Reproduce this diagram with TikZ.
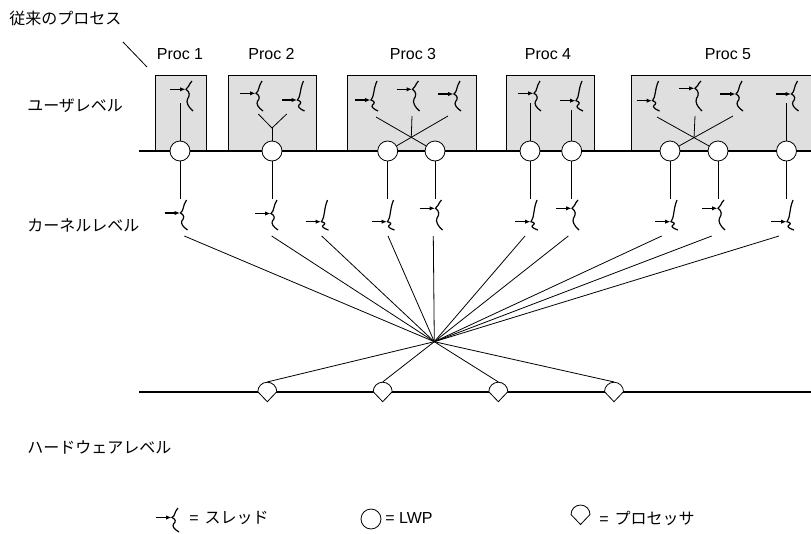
\documentclass[tikz,border=0pt]{standalone}
\usepackage{fontspec}
\setmainfont{Liberation Sans}
\newfontfamily\jpfont{Noto Sans CJK JP}
\usetikzlibrary{arrows.meta}

\tikzset{
  bus/.style={line width=2pt},
  procbox/.style={draw, line width=0.6pt, fill=gray!25},
  lwp/.style={circle, draw, fill=white, line width=0.6pt, minimum size=15pt, inner sep=0pt},
  cpunode/.style={circle, minimum size=14.25pt, inner sep=0pt},
  cpuline/.style={draw, fill=white, line width=0.6pt},
  thrline/.style={line width=0.9pt},
  thrarrow/.style={line width=0.8pt, -{Latex[length=4pt,width=3.2pt]}},
  conn/.style={line width=0.6pt},
  proclbl/.style={font=\fontsize{12}{14}\selectfont, inner sep=0pt},
  jplbl/.style={font=\jpfont\fontsize{12}{14}\selectfont, inner sep=0pt, anchor=west},
  lglbl/.style={font=\fontsize{12}{14}\selectfont, inner sep=0pt, anchor=west}
}

% thread symbol: [length] contact-x, contact-y, offset of contact below top
\newcommand\mythr[4][30]{%
  \draw[thrline] ({#2+6},{#3-#4}) .. controls ({#2+2},{#3-0.55*#4}) and ({#2+3.5},{#3-0.2*#4}) .. (#2,#3)
     .. controls ({#2+4},{#3+0.12*(#1-#4)}) and ({#2+4},{#3+0.3*(#1-#4)}) .. ({#2+1.5},{#3+0.45*(#1-#4)})
     .. controls ({#2},{#3+0.6*(#1-#4)}) and ({#2+2},{#3+0.8*(#1-#4)}) .. ({#2+7},{#3+#1-#4});
  \draw[thrarrow] ({#2-16},#3) -- ({#2-0.5},#3);
}
% processor symbol: name, x, y
\newcommand\mycpu[3]{%
  \node[cpunode] (#1) at (#2,#3) {};
  \draw[cpuline] ({#2-9.5},#3) .. controls ({#2-9.5},{#3-5.25}) and ({#2-5.25},{#3-9.5}) .. (#2,{#3-9.5})
     .. controls ({#2+5.25},{#3-9.5}) and ({#2+9.5},{#3-5.25}) .. ({#2+9.5},#3) -- (#2,{#3+10}) -- cycle;
}

\begin{document}
\begin{tikzpicture}[x=0.75pt,y=-0.75pt]
\useasboundingbox (0,0) rectangle (811,533);

% left labels
\node[jplbl] (tlbl) at (9,18) {従来のプロセス};
\node[jplbl] (ulbl) at (27,106) {ユーザレベル};
\node[jplbl] (klbl) at (27,225) {カーネルレベル};
\node[jplbl] (hlbl) at (27,447) {ハードウェアレベル};
\coordinate (pt1) at (123,42);
\coordinate (pt2) at (147,67);
\draw[conn] (pt1) -- (pt2);

% process labels
\node[proclbl] (pl1) at (180,54) {Proc 1};
\node[proclbl] (pl2) at (271.5,54) {Proc 2};
\node[proclbl] (pl3) at (413,54) {Proc 3};
\node[proclbl] (pl4) at (548,54) {Proc 4};
\node[proclbl] (pl5) at (728,54) {Proc 5};

% process boxes
\path[procbox] (155.7,75) rectangle (206,151);
\path[procbox] (228.3,75) rectangle (316,151);
\path[procbox] (347.3,75) rectangle (476.7,151);
\path[procbox] (506,75) rectangle (594,151);
\path[procbox] (631.7,75) rectangle (820,151);

% user bus
\coordinate (ub1) at (139,151);
\coordinate (ub2) at (820,151);
\draw[bus] (ub1) -- (ub2);

% user threads
\mythr{186}{89.3}{8.3}
\mythr{256}{93.3}{12.3}
\mythr{297.5}{100}{19}
\mythr{371}{100}{19}
\mythr{412.5}{89.3}{8.3}
\mythr{454}{94}{13}
\mythr{534}{93.3}{12.3}
\mythr{576}{100.7}{19.7}
\mythr{652.5}{100.7}{19.7}
\mythr{695}{88.3}{7.3}
\mythr{736}{94}{13}
\mythr{791.5}{94}{13}

% LWPs
\node[lwp] (c1) at (180,151) {};
\node[lwp] (c2) at (272,151) {};
\node[lwp] (c3a) at (387.7,151) {};
\node[lwp] (c3b) at (435,151) {};
\node[lwp] (c4a) at (530,151) {};
\node[lwp] (c4b) at (571.7,151) {};
\node[lwp] (c5a) at (670,151) {};
\node[lwp] (c5b) at (718,151) {};
\node[lwp] (c5c) at (786.5,151) {};

% user-level connections
\coordinate (u1) at (180,103);
\draw[conn] (u1) -- (c1);
\coordinate (j2) at (272,128);
\coordinate (a21) at (258.3,114);
\coordinate (a22) at (286.7,114);
\draw[conn] (a21) -- (j2) -- (a22);
\draw[conn] (j2) -- (c2);
\coordinate (a31) at (376,117);
\coordinate (a32) at (412,116);
\coordinate (a33) at (448,116);
\draw[conn] (a31) -- (c3b);
\draw[conn] (a33) -- (c3a);
\draw[conn] (a32) -- (intersection of a31--c3b and a33--c3a);
\coordinate (u4a) at (530,103);
\coordinate (u4b) at (571.7,110);
\draw[conn] (u4a) -- (c4a);
\draw[conn] (u4b) -- (c4b);
\coordinate (a51) at (657,117);
\coordinate (a52) at (695,116);
\coordinate (a53) at (733,116);
\draw[conn] (a51) -- (c5b);
\draw[conn] (a53) -- (c5a);
\draw[conn] (a52) -- (intersection of a51--c5b and a53--c5a);
\coordinate (u5c) at (786.5,103);
\draw[conn] (u5c) -- (c5c);

% kernel threads
\coordinate (k1t) at (180,199);
\coordinate (k2t) at (272,199);
\coordinate (k4t) at (387.7,199);
\coordinate (k5t) at (435,199);
\coordinate (k6t) at (530,199);
\coordinate (k7t) at (571.7,199);
\coordinate (k8t) at (670,199);
\coordinate (k9t) at (718,199);
\coordinate (k10t) at (786.5,199);
\draw[conn] (c1) -- (k1t);
\draw[conn] (c2) -- (k2t);
\draw[conn] (c3a) -- (k4t);
\draw[conn] (c3b) -- (k5t);
\draw[conn] (c4a) -- (k6t);
\draw[conn] (c4b) -- (k7t);
\draw[conn] (c5a) -- (k8t);
\draw[conn] (c5b) -- (k9t);
\draw[conn] (c5c) -- (k10t);

\mythr{180.5}{213}{13}
\mythr{271}{213.5}{13.5}
\mythr{321.5}{221.7}{21.7}
\mythr{387.5}{221.7}{21.7}
\mythr{435.5}{208.3}{8.3}
\mythr{531}{221.7}{21.7}
\mythr{572}{208.3}{8.3}
\mythr{671}{221.7}{21.7}
\mythr{718}{208.3}{8.3}
\mythr{787}{221.7}{21.7}

% hub
\coordinate (hub) at (434.3,341.7);
\coordinate (s1) at (184.3,236);
\coordinate (s2) at (271.7,236);
\coordinate (s3) at (321.7,236);
\coordinate (s4) at (388,236);
\coordinate (s5) at (433.3,236);
\coordinate (s6) at (525,236);
\coordinate (s7) at (568.3,236);
\coordinate (s8) at (661.7,236);
\coordinate (s9) at (711.7,236);
\coordinate (s10) at (779,236);
\foreach \s in {s1,s2,s3,s4,s5,s6,s7,s8,s9,s10} \draw[conn] (\s) -- (hub);

% hardware bus and processors
\coordinate (hb1) at (139,392);
\coordinate (hb2) at (820,392);
\draw[bus] (hb1) -- (hb2);
\mycpu{p1}{267.3}{391.7}
\mycpu{p2}{382.7}{391.7}
\mycpu{p3}{498.3}{391.7}
\mycpu{p4}{614}{391.7}
\foreach \p in {p1,p2,p3,p4} \draw[conn] (hub) -- (\p.north);

% legend
\mythr[24]{172}{517.5}{9.5}
\node[lglbl] (lg1) at (189,518) {= \hspace{0.1em}{\jpfont スレッド}};
\node[lwp] (lgc) at (371,519) {};
\node[lglbl] (lg2) at (385,518) {= LWP};
\mycpu{lgp}{580.5}{514.5}
\node[lglbl] (lg3) at (599,518) {= \hspace{0.1em}{\jpfont プロセッサ}};
\end{tikzpicture}
\end{document}
